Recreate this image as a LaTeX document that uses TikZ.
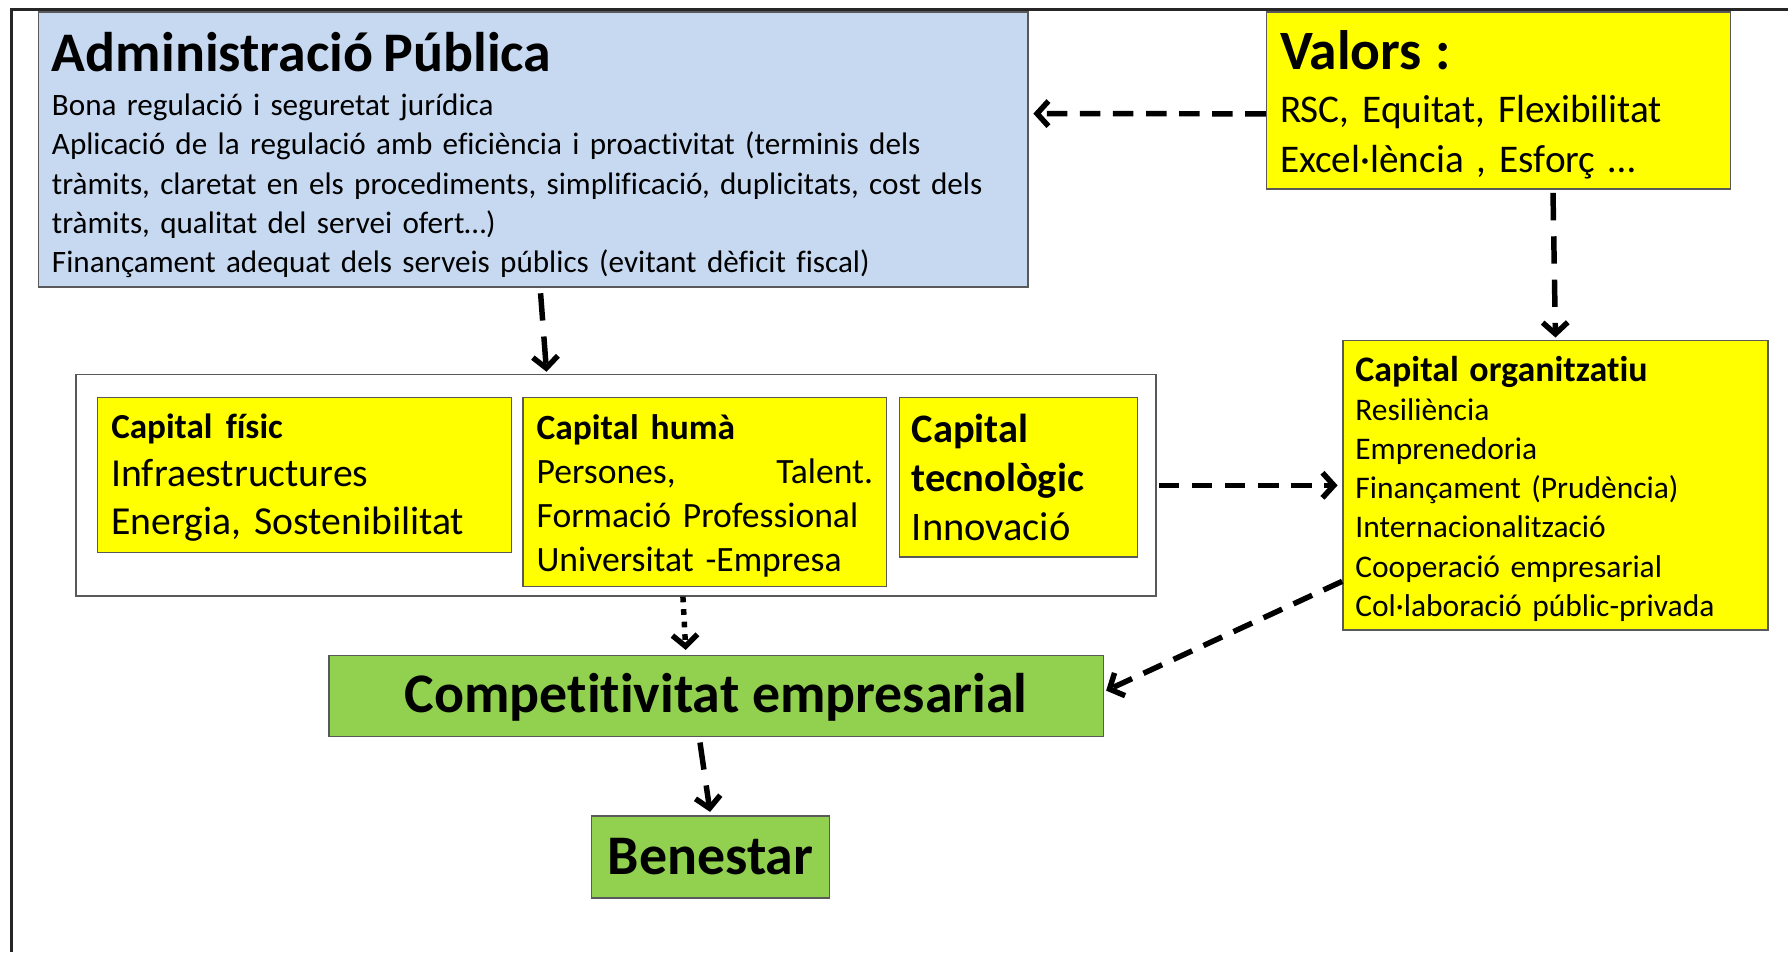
\documentclass[tikz,border=0pt]{standalone}
\usepackage{fontspec}
\setmainfont{Carlito}[Ligatures=NoCommon]
\usetikzlibrary{arrows.meta,calc}

\definecolor{admblue}{HTML}{C6D9F1}
\definecolor{capyellow}{HTML}{FFFF00}
\definecolor{compgreen}{HTML}{92D050}
\definecolor{edgegray}{HTML}{595959}

% title line with some extra room above it
\newsavebox{\headbox}
\newcommand{\headline}[2]{\sbox{\headbox}{#2}\rule{0pt}{\dimexpr\ht\headbox+#1\relax}\usebox{\headbox}}

\begin{document}
\begin{tikzpicture}[x=1pt,y=-1pt,
    box/.style={draw=edgegray,line width=1.2pt,anchor=north west,inner xsep=12pt,inner ysep=0pt,align=left},
    goal/.style={draw=edgegray,line width=1.2pt,anchor=north west,fill=compgreen,inner sep=0pt,align=center},
    flow/.style={-{Straight Barb[length=10pt,width=22pt]},line width=4.8pt,dash pattern=on 18pt off 11pt},
    long/.style={dash pattern=on 24pt off 14pt},
    dots/.style={flow,dash pattern=on 5pt off 6pt}
  ]
  \useasboundingbox (0,0) rectangle (1568,835);

  % Outer frame (only top and left edges in view)
  \draw[line width=2.5pt,black!85] (1568,8) -- (10,8) -- (10,835);

  % Administracio Publica
  \node[box,fill=admblue,text width=844pt,minimum height=241pt,font={\fontsize{27.3}{34.4}\selectfont}] (adm) at (33,10)
    {\headline{10pt}{\bfseries\fontsize{49}{49}\selectfont Administració Pública}\\[4pt]
     Bona regulació i seguretat jurídica\\
     Aplicació de la regulació amb eficiència i proactivitat (terminis dels\\
     tràmits, claretat en els procediments, simplificació, duplicitats, cost dels\\
     tràmits, qualitat del servei ofert…)\\
     Finançament adequat dels serveis públics (evitant dèficit fiscal)};

  % Valors
  \node[box,fill=capyellow,text width=383pt,minimum height=155pt,font={\fontsize{34.4}{44}\selectfont}] (val) at (1110,10)
    {\headline{8pt}{\bfseries\fontsize{48.7}{48.7}\selectfont Valors :}\\[2pt]
     RSC, Equitat, Flexibilitat\\
     Excel·lència , Esforç …};

  % Capital organitzatiu
  \node[box,fill=capyellow,inner xsep=11pt,text width=351pt,minimum height=254pt,font={\fontsize{27.6}{34.3}\selectfont}] (org) at (1177,298)
    {\headline{6pt}{\bfseries\fontsize{31.5}{31.5}\selectfont Capital organitzatiu}\\
     Resiliència\\
     Emprenedoria\\
     Finançament (Prudència)\\
     Internacionalització\\
     Cooperació empresarial\\
     Col·laboració públic-privada};

  % Group of capitals
  \node[draw=edgegray,line width=1.2pt,anchor=north west,minimum width=947pt,minimum height=194pt,inner sep=0pt] (frame) at (66,328) {};

  \node[box,fill=capyellow,text width=339pt,minimum height=136pt,font={\fontsize{34.8}{42}\selectfont}] (fis) at (85,348)
    {\headline{5pt}{\bfseries\fontsize{30.8}{30.8}\selectfont Capital físic}\\
     Infraestructures\\
     Energia, Sostenibilitat};

  \node[box,fill=capyellow,text width=295pt,minimum height=166pt,font={\fontsize{31.2}{38.6}\selectfont}] (hum) at (458,348)
    {\headline{6pt}{\bfseries\fontsize{31.1}{31.1}\selectfont Capital humà}\\
     Persones,\hfill Talent.\\
     Formació Professional\\
     Universitat -Empresa};

  \node[box,fill=capyellow,inner xsep=11pt,text width=187pt,minimum height=140pt,font={\fontsize{35.5}{43}\selectfont}] (tec) at (788,348)
    {{\bfseries Capital\\ tecnològic}\\
     Innovació};

  % Results
  \node[goal,minimum width=679pt,minimum height=71pt,text depth=5pt,font={\bfseries\fontsize{49}{49}\selectfont}] (comp) at (288,574) {Competitivitat empresarial};
  \node[goal,minimum width=209pt,minimum height=72pt,font={\bfseries\fontsize{49}{49}\selectfont}] (ben) at (518,715) {Benestar};

  % Valors -> Administracio
  \draw[flow,shorten >=4pt] ($(val.north west)!0.575!(val.south west)$) -- ($(adm.north east)!0.37!(adm.south east)$);
  % Valors -> Capital organitzatiu
  \draw[flow,long,shorten <=3pt,shorten >=2pt] ($(val.south west)!0.617!(val.south east)$) -- (org.north);
  % Administracio -> capitals
  \draw[flow,long,shorten <=5pt,shorten >=2pt] ($(adm.south west)!0.507!(adm.south east)$) -- ($(frame.north west)!0.436!(frame.north east)$);
  % capitals -> Capital organitzatiu
  \draw[flow,shorten <=2pt,shorten >=4pt] (frame.east) -- (frame.east -| org.west);
  % Capital organitzatiu -> Competitivitat
  \draw[flow,shorten >=2pt] ($(org.north west)!0.83!(org.south west)$) -- ($(comp.north east)!0.45!(comp.south east)$);
  % capitals -> Competitivitat
  \draw[dots,shorten >=4pt] ($(frame.south west)!0.562!(frame.south east)$) -- ($(comp.north west)!0.461!(comp.north east)$);
  % Competitivitat -> Benestar
  \draw[flow,long,shorten <=5pt,shorten >=3pt] ($(comp.south west)!0.478!(comp.south east)$) -- (ben.north);
\end{tikzpicture}
\end{document}
